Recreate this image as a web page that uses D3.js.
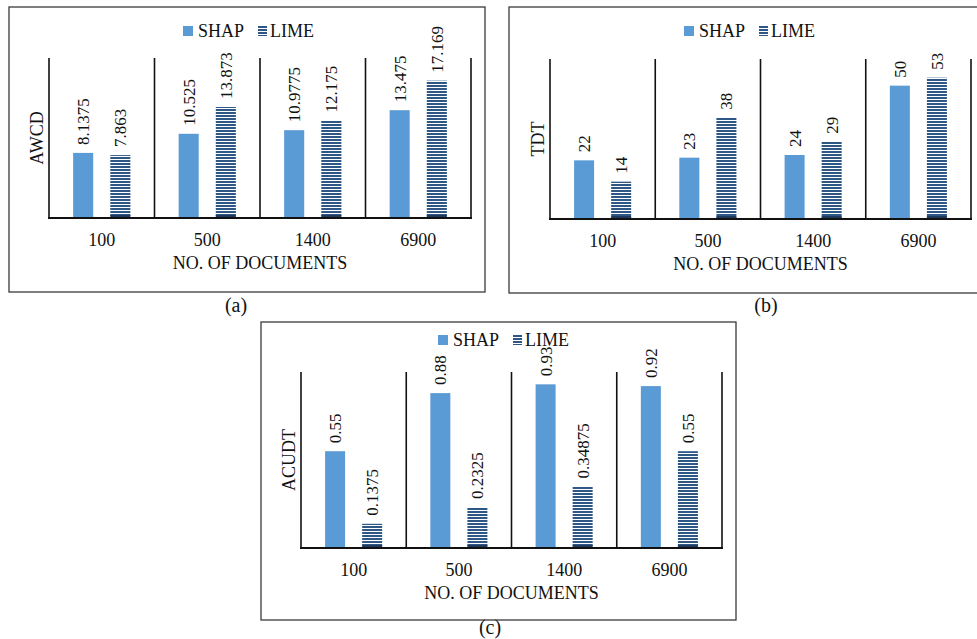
<!DOCTYPE html>
<html>
<head>
<meta charset="utf-8">
<script src="https://cdn.jsdelivr.net/npm/d3@7/dist/d3.min.js"></script>
<style>
  html, body { margin: 0; padding: 0; background: #ffffff; }
  svg { display: block; }
</style>
</head>
<body>
<svg id="chart" width="977" height="639"></svg>
<script>
// ---- data ----
const categories = ["100", "500", "1400", "6900"];
const seriesNames = ["SHAP", "LIME"];
const awcdShap = [8.1375, 10.525, 10.9775, 13.475];
const awcdLime = [7.863, 13.873, 12.175, 17.169];
const tdtShap = [22, 23, 24, 50];
const tdtLime = [14, 38, 29, 53];
const acudtShap = [0.55, 0.88, 0.93, 0.92];
const acudtLime = [0.1375, 0.2325, 0.34875, 0.55];
const yLabels = ["AWCD", "TDT", "ACUDT"];
const yMaxima = [20, 60, 1];
const xTitle = "NO. OF DOCUMENTS";
const captions = ["(a)", "(b)", "(c)"];

// ---- styles / layout ----
const FONT = "'Liberation Serif', 'DejaVu Serif', 'Times New Roman', serif";
const SHAP_COLOR = "#5b9bd5";
const LIME_DARK = "#2f5785";

const svg = d3.select("#chart")
  .attr("font-family", FONT)
  .style("font-family", FONT);
const defs = svg.append("defs");
const pat = defs.append("pattern")
  .attr("id", "limePat")
  .attr("patternUnits", "userSpaceOnUse")
  .attr("width", 6).attr("height", 3);
pat.append("rect").attr("width", 6).attr("height", 3).attr("fill", "#ffffff");
pat.append("rect").attr("y", 1).attr("width", 6).attr("height", 2).attr("fill", LIME_DARK);

const panels = [
  { shap: awcdShap, lime: awcdLime, yLabel: yLabels[0], yMax: yMaxima[0], caption: captions[0],
    box: [9, 7, 476, 285], plot: [49, 471, 58, 218], legendX: 183, legendY: 31, capX: 236, capY: 312 },
  { shap: tdtShap, lime: tdtLime, yLabel: yLabels[1], yMax: yMaxima[1], caption: captions[1],
    box: [509, 7, 475, 286], plot: [550, 971, 59, 219], legendX: 684, legendY: 31, capX: 766, capY: 312 },
  { shap: acudtShap, lime: acudtLime, yLabel: yLabels[2], yMax: yMaxima[2], caption: captions[2],
    box: [261, 322, 475, 298], plot: [301, 722, 372, 548], legendX: 438, legendY: 340, capX: 490, capY: 634 }
];

function txt(sel) {
  return sel.append("text").attr("font-family", FONT).style("font-family", FONT).attr("fill", "#111");
}

panels.forEach(p => {
  const g = svg.append("g");
  const [bx, by, bw, bh] = p.box;
  g.append("rect").attr("x", bx).attr("y", by).attr("width", bw).attr("height", bh)
    .attr("fill", "none").attr("stroke", "#3a3a3a").attr("stroke-width", 1.3);

  const [x0, x1, top, base] = p.plot;
  const x = d3.scaleBand().domain(categories).range([x0, x1]).paddingInner(0).paddingOuter(0);
  const xs = d3.scaleBand().domain(seriesNames).range([0, x.bandwidth()])
    .paddingInner(0.46).paddingOuter(0.65);
  const y = d3.scaleLinear().domain([0, p.yMax]).range([base, top]);

  const rows = categories.map((c, i) => ({ cat: c, SHAP: p.shap[i], LIME: p.lime[i] }));

  rows.forEach(r => {
    seriesNames.forEach(s => {
      const bxp = x(r.cat) + xs(s);
      const v = r[s];
      g.append("rect")
        .attr("x", bxp).attr("y", y(v))
        .attr("width", xs.bandwidth()).attr("height", y(0) - y(v))
        .attr("fill", s === "SHAP" ? SHAP_COLOR : "url(#limePat)");
      if (s === "LIME") {
        g.append("rect").attr("x", bxp).attr("y", y(0) - 3)
          .attr("width", xs.bandwidth()).attr("height", 3).attr("fill", "#1f3a5c");
      }
      const cx = bxp + xs.bandwidth() / 2;
      txt(g)
        .attr("transform", `translate(${cx},${y(v) - 8}) rotate(-90)`)
        .attr("dy", "0.35em")
        .attr("text-anchor", "start")
        .attr("font-size", 17)
        .text(String(v));
    });
  });

  const bounds = categories.map(c => x(c)).concat([x1]);
  bounds.forEach(bv => {
    g.append("line").attr("x1", bv).attr("x2", bv).attr("y1", top).attr("y2", base)
      .attr("stroke", "#111").attr("stroke-width", 1.6);
  });
  g.append("line").attr("x1", x0 - 1).attr("x2", x1 + 1).attr("y1", base).attr("y2", base)
    .attr("stroke", "#111").attr("stroke-width", 2.2);

  categories.forEach(c => {
    txt(g).attr("x", x(c) + x.bandwidth() / 2).attr("y", base + 22)
      .attr("dy", "0.35em").attr("text-anchor", "middle").attr("font-size", 18).text(c);
  });
  txt(g).attr("x", (x0 + x1) / 2).attr("y", base + 45)
    .attr("dy", "0.35em").attr("text-anchor", "middle").attr("font-size", 18).text(xTitle);
  txt(g)
    .attr("transform", `translate(${x0 - 6},${(top + base) / 2}) rotate(-90)`)
    .attr("text-anchor", "middle").attr("font-size", 18).text(p.yLabel);

  const lg = g.append("g").attr("transform", `translate(${p.legendX},${p.legendY})`);
  lg.append("rect").attr("x", 0).attr("y", -5).attr("width", 10).attr("height", 10).attr("fill", SHAP_COLOR);
  txt(lg).attr("x", 15).attr("y", 0).attr("dy", "0.35em").attr("font-size", 18).text(seriesNames[0]);
  lg.append("rect").attr("x", 75).attr("y", -5).attr("width", 9).attr("height", 10).attr("fill", "url(#limePat)");
  txt(lg).attr("x", 87).attr("y", 0).attr("dy", "0.35em").attr("font-size", 18).text(seriesNames[1]);

  txt(svg).attr("x", p.capX).attr("y", p.capY).attr("text-anchor", "middle")
    .attr("font-size", 20).text(p.caption);
});
</script>
</body>
</html>
